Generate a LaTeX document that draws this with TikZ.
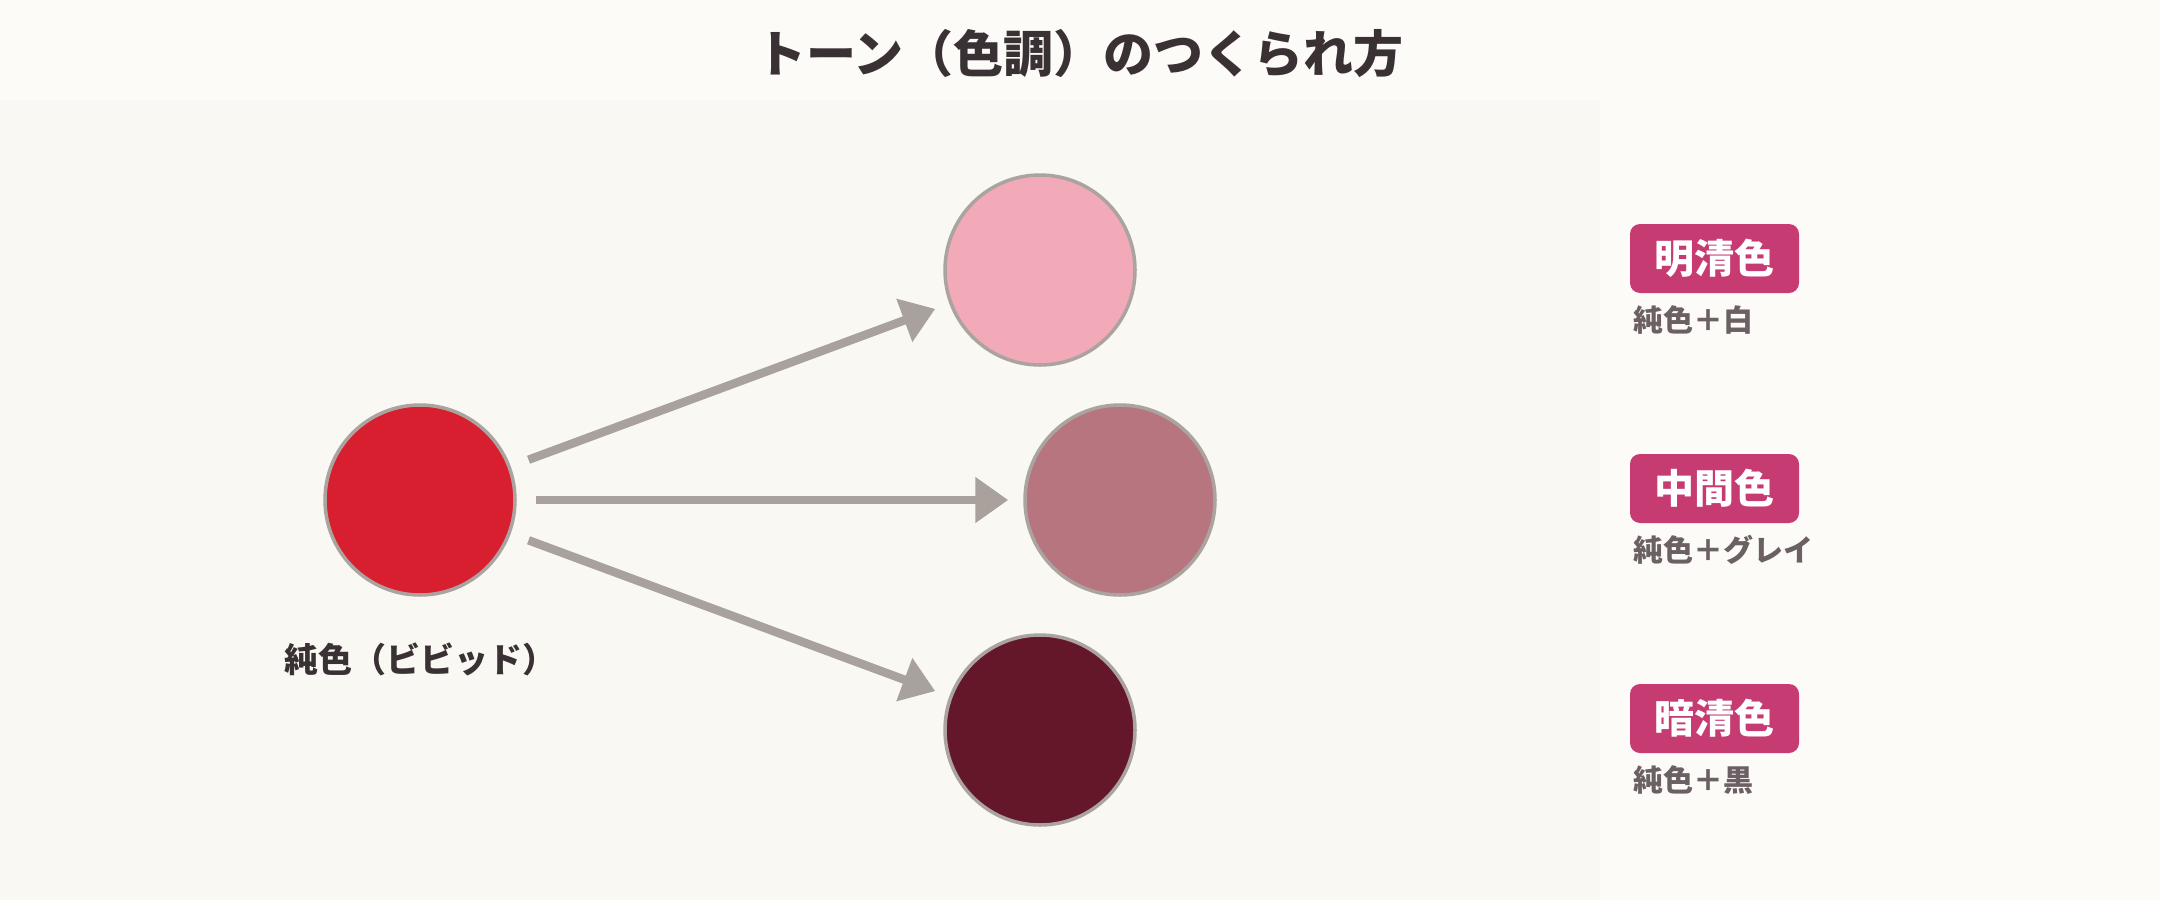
\documentclass[tikz,border=0pt]{standalone}
\usepackage{fontspec}
\setmainfont{Noto Sans CJK JP}
\newfontfamily\jpfont{Noto Sans CJK JP}
\usetikzlibrary{arrows.meta}
\definecolor{headbg}{HTML}{FCFBF7}
\definecolor{panelbg}{HTML}{FAF8F2}
\definecolor{inktext}{HTML}{3A3135}
\definecolor{subtext}{HTML}{6B6063}
\definecolor{badgefill}{HTML}{C63B72}
\definecolor{vividc}{HTML}{D81F2F}
\definecolor{lightc}{HTML}{F2A9B8}
\definecolor{midc}{HTML}{B77580}
\definecolor{darkc}{HTML}{641728}
\definecolor{rimc}{HTML}{ABA39F}
\definecolor{arrowc}{HTML}{A9A19C}
\tikzset{
  swatch/.style={circle, minimum size=190pt, inner sep=0pt, draw=rimc, line width=3.5pt},
  conn/.style={draw=arrowc, line width=8.5pt, shorten <=19pt, shorten >=15pt,
    -{Triangle[length=33pt,width=44pt]}},
  badge/.style={rounded corners=10pt, fill=badgefill, minimum width=169pt, minimum height=69pt,
    inner sep=0pt, text=white, font=\jpfont\bfseries\fontsize{40}{47}\selectfont},
  sublabel/.style={anchor=base west, inner sep=0pt, text=subtext,
    font=\jpfont\bfseries\fontsize{30}{35}\selectfont},
  titletext/.style={anchor=base, inner sep=0pt, text=inktext,
    font=\jpfont\bfseries\fontsize{50}{59}\selectfont},
  labeltext/.style={anchor=base, inner sep=0pt, text=inktext,
    font=\jpfont\bfseries\fontsize{34}{40}\selectfont}
}
\begin{document}
\begin{tikzpicture}[x=1pt,y=-1pt]
\fill[headbg] (0,0) rectangle (2160,900);
\fill[panelbg] (0,100) rectangle (1600,900);
\useasboundingbox (0,0) rectangle (2160,900);

\node[titletext] (title) at (1080,72) {トーン（色調）のつくられ方};

\node[swatch, fill=vividc] (vivid) at (420,500) {};
\node[swatch, fill=lightc] (light) at (1040,270) {};
\node[swatch, fill=midc] (mid) at (1120,500) {};
\node[swatch, fill=darkc] (dark) at (1040,730) {};

\node[labeltext] (vividlabel) at (420,672) {純色（ビビッド）};

\draw[conn] (vivid) -- (light);
\draw[conn] (vivid) -- (mid);
\draw[conn] (vivid) -- (dark);

\node[badge] (b1) at (1714.5,258.5) {明清色};
\node[badge] (b2) at (1714.5,488.5) {中間色};
\node[badge] (b3) at (1714.5,718.5) {暗清色};

\node[sublabel] (s1) at (1633,331) {純色＋白};
\node[sublabel] (s2) at (1633,561) {純色＋グレイ};
\node[sublabel] (s3) at (1633,791) {純色＋黒};
\end{tikzpicture}
\end{document}
